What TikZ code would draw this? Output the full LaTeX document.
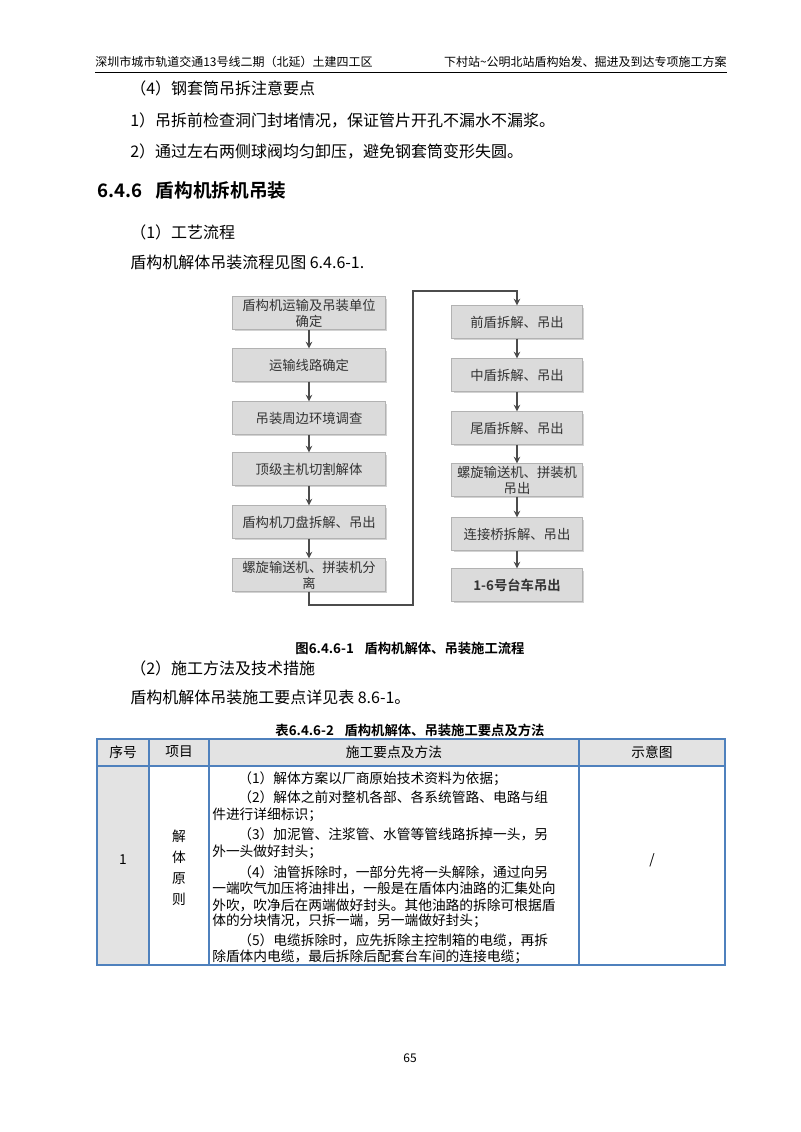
\documentclass[tikz,border=0pt]{standalone}
\usepackage{fontspec}
\setmainfont{Noto Sans CJK SC}[BoldFont={Noto Sans CJK SC Bold}]
\usetikzlibrary{arrows.meta,shadows}
\definecolor{tblue}{RGB}{79,129,189}
\begin{document}
\begin{tikzpicture}[x=0.75pt,y=-0.75pt,
  txt/.style={anchor=west,inner sep=0pt,font=\fontsize{12}{14}\selectfont},
  hdr/.style={inner sep=0pt,font=\fontsize{9}{11}\selectfont},
  fbox/.style={draw=gray!60,fill=gray!28,minimum height=24.5pt,inner sep=0pt,align=center,
     font=\fontsize{10}{12}\selectfont,text=black!80,
     drop shadow={shadow xshift=1.5pt,shadow yshift=-1.5pt,opacity=0.35}},
  lbox/.style={fbox,minimum width=114.5pt,text width=112pt},
  rbox/.style={fbox,minimum width=98pt,text width=96pt},
  arr/.style={-{Stealth[length=5pt,width=5pt]},draw=black!70,line width=1pt},
  tt/.style={anchor=west,inner sep=0pt,font=\fontsize{10.3}{12}\selectfont},
  tc/.style={inner sep=0pt,font=\fontsize{10.3}{12}\selectfont},
  grid/.style={draw=tblue,line width=0.8pt}]
\useasboundingbox (0,0) rectangle (800,1132);
\fill[white] (0,0) rectangle (800,1132);
% header
\node[hdr,anchor=west] (hl) at (95,62) {深圳市城市轨道交通13号线二期（北延）土建四工区};
\node[hdr,anchor=east] (hr) at (727,62) {下村站\textasciitilde 公明北站盾构始发、掘进及到达专项施工方案};
\draw[line width=0.6pt] (95,72) -- (727,72);
% body text
\node[txt] (t1) at (130,88) {（4）钢套筒吊拆注意要点};
\node[txt] (t2) at (130,121) {1）吊拆前检查洞门封堵情况，保证管片开孔不漏水不漏浆。};
\node[txt] (t3) at (130,152) {2）通过左右两侧球阀均匀卸压，避免钢套筒变形失圆。};
\node[anchor=west,inner sep=0pt,font=\fontsize{14}{16}\selectfont\bfseries] (h1) at (97,190) {6.4.6\hspace{10pt}盾构机拆机吊装};
\node[txt] (t4) at (130,232) {（1）工艺流程};
\node[txt] (t5) at (130,262) {盾构机解体吊装流程见图 6.4.6-1.};
% flowchart left
\node[lbox] (l1) at (309,313) {盾构机运输及吊装单位\\确定};
\node[lbox] (l2) at (309,365) {运输线路确定};
\node[lbox] (l3) at (309,418) {吊装周边环境调查};
\node[lbox] (l4) at (309,469) {顶级主机切割解体};
\node[lbox] (l5) at (309,522) {盾构机刀盘拆解、吊出};
\node[lbox] (l6) at (309,575) {螺旋输送机、拼装机分\\离};
% right
\node[rbox] (r1) at (517,322) {前盾拆解、吊出};
\node[rbox] (r2) at (517,375) {中盾拆解、吊出};
\node[rbox] (r3) at (517,428) {尾盾拆解、吊出};
\node[rbox] (r4) at (517,480) {螺旋输送机、拼装机\\吊出};
\node[rbox] (r5) at (517,534) {连接桥拆解、吊出};
\node[rbox,font=\fontsize{10}{12}\selectfont\bfseries] (r6) at (517,585) {1-6号台车吊出};
\foreach \a/\b in {l1/l2,l2/l3,l3/l4,l4/l5,l5/l6,r1/r2,r2/r3,r3/r4,r4/r5,r5/r6}
  \draw[arr] (\a) -- (\b);
\coordinate (c1) at (309,605);
\coordinate (c2) at (413,605);
\coordinate (c3) at (413,291);
\coordinate (c4) at (517,291);
\draw[arr] (l6.south) -- (c1) -- (c2) -- (c3) -- (c4) -- (r1.north);
% captions
\node[inner sep=0pt,font=\fontsize{10}{12}\selectfont\bfseries] (cap1) at (410,648) {图6.4.6-1\hspace{8pt}盾构机解体、吊装施工流程};
\node[txt] (t6) at (130,668) {（2）施工方法及技术措施};
\node[txt] (t7) at (130,697) {盾构机解体吊装施工要点详见表 8.6-1。};
\node[inner sep=0pt,font=\fontsize{10}{12}\selectfont\bfseries] (cap2) at (410,730) {表6.4.6-2\hspace{8pt}盾构机解体、吊装施工要点及方法};
% table
\fill[gray!22] (97,739) rectangle (725,766);
\fill[gray!22] (97,766) rectangle (149,965);
\draw[grid] (97,739) rectangle (725,965);
\draw[grid] (97,766) -- (725,766);
\foreach \x in {149,209,579} \draw[grid] (\x,739) -- (\x,965);
\node[tc] (th1) at (123,752) {序号};
\node[tc] (th2) at (179,752) {项目};
\node[tc] (th3) at (394,752) {施工要点及方法};
\node[tc] (th4) at (652,752) {示意图};
\node[tc] (c11) at (123,860) {1};
\node[tc,align=center,font=\fontsize{10.3}{15.7}\selectfont] (c12) at (179,868) {解\\体\\原\\则};
\node[tc] (c14) at (652,860) {/};
\node[tt] (p1) at (238,779) {（1）解体方案以厂商原始技术资料为依据；};
\node[tt] (p2) at (238,797) {（2）解体之前对整机各部、各系统管路、电路与组};
\node[tt] (p3) at (212,815) {件进行详细标识；};
\node[tt] (p4) at (238,834) {（3）加泥管、注浆管、水管等管线路拆掉一头，另};
\node[tt] (p5) at (212,852) {外一头做好封头；};
\node[tt] (p6) at (238,872) {（4）油管拆除时，一部分先将一头解除，通过向另};
\node[tt] (p7) at (212,888) {一端吹气加压将油排出，一般是在盾体内油路的汇集处向};
\node[tt] (p8) at (212,905) {外吹，吹净后在两端做好封头。其他油路的拆除可根据盾};
\node[tt] (p9) at (212,921) {体的分块情况，只拆一端，另一端做好封头；};
\node[tt] (p10) at (238,940) {（5）电缆拆除时，应先拆除主控制箱的电缆，再拆};
\node[tt] (p11) at (212,957) {除盾体内电缆，最后拆除后配套台车间的连接电缆；};
\node[hdr] (pg) at (410,1058) {65};
\end{tikzpicture}
\end{document}
